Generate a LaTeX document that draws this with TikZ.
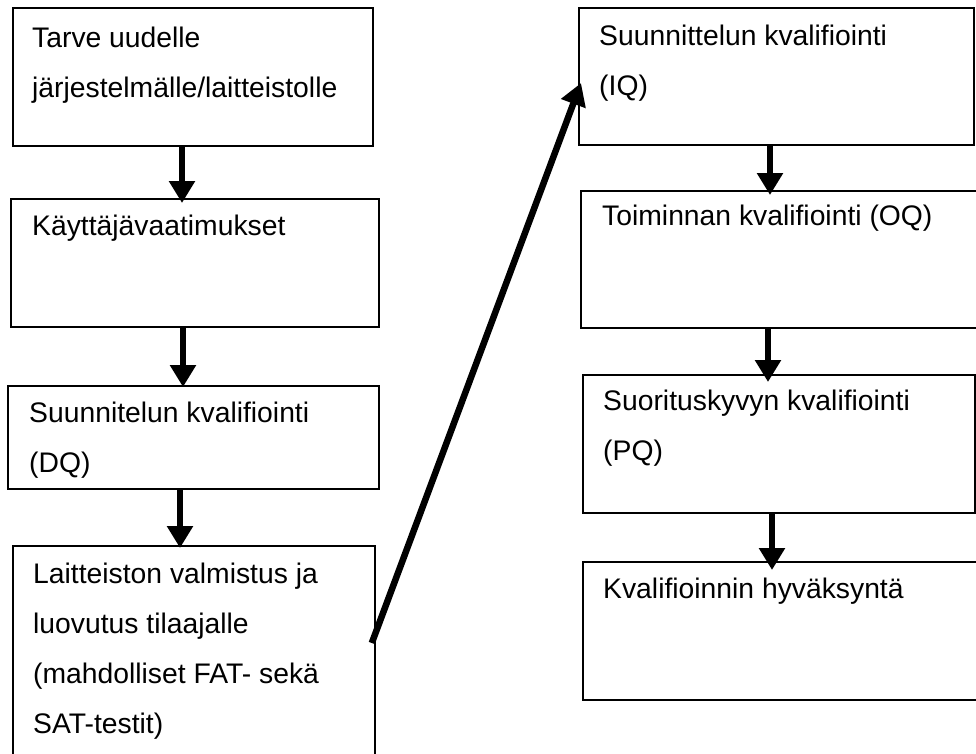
\documentclass[tikz,border=0pt]{standalone}
\usepackage{fontspec}
\setmainfont{Liberation Sans}
\usetikzlibrary{arrows.meta,calc}
\begin{document}
\begin{tikzpicture}[x=1pt,y=-1pt,
  box/.style={draw, line width=1.8pt, inner sep=0pt, anchor=north west},
  txt/.style={anchor=base west, inner sep=0pt, align=left, font=\fontsize{28.3}{50}\selectfont},
  arr/.style={line width=6.5pt, -{Triangle[width=25pt,length=22pt]}}]
\useasboundingbox (0,0) rectangle (976,753);
\fill[white] (0,0) rectangle (976,753);
% left column
\node[box, minimum width=360pt, minimum height=138pt] (b1) at (12,7) {};
\node[box, minimum width=368pt, minimum height=128pt] (b2) at (10,198) {};
\node[box, minimum width=371pt, minimum height=103pt] (b3) at (7,385) {};
\node[box, minimum width=362pt, minimum height=215pt] (b4) at (12,545) {};
% right column
\node[box, minimum width=395pt, minimum height=137pt] (b5) at (578,7) {};
\node[box, minimum width=400pt, minimum height=137pt] (b6) at (580,190) {};
\node[box, minimum width=392pt, minimum height=138pt] (b7) at (582,374) {};
\node[box, minimum width=398pt, minimum height=138pt] (b8) at (582,561) {};
% texts (anchored at the baseline of their last line)
\node[txt] (t1) at (32,97) {Tarve uudelle\\järjestelmälle/laitteistolle};
\node[txt] (t2) at (32,235) {Käyttäjävaatimukset};
\node[txt] (t3) at (29,472) {Suunnitelun kvalifiointi\\(DQ)};
\node[txt] (t4) at (33,733) {Laitteiston valmistus ja\\luovutus tilaajalle\\(mahdolliset FAT- sekä\\SAT-testit)};
\node[txt] (t5) at (599,95) {Suunnittelun kvalifiointi\\(IQ)};
\node[txt] (t6) at (602,225) {Toiminnan kvalifiointi (OQ)};
\node[txt] (t7) at (603,460) {Suorituskyvyn kvalifiointi\\(PQ)};
\node[txt] (t8) at (603,598) {Kvalifioinnin hyväksyntä};
% arrow columns
\coordinate (x12) at (182,0);
\coordinate (x23) at (183,0);
\coordinate (x34) at (180,0);
\coordinate (x56) at (770,0);
\coordinate (x67) at (768,0);
\coordinate (x78) at (772,0);
\draw[arr] (b1.south -| x12) -- ($(b2.north -| x12)+(0,5)$);
\draw[arr] (b2.south -| x23) -- ($(b3.north -| x23)+(0,2)$);
\draw[arr] (b3.south -| x34) -- ($(b4.north -| x34)+(0,3)$);
\draw[arr] (b5.south -| x56) -- ($(b6.north -| x56)+(0,5)$);
\draw[arr] (b6.south -| x67) -- ($(b7.north -| x67)+(0,8)$);
\draw[arr] (b7.south -| x78) -- ($(b8.north -| x78)+(0,9)$);
\draw[arr] ($(b4.north east)+(-4,98)$) -- ($(b5.north west)+(3,76)$);
\end{tikzpicture}
\end{document}
